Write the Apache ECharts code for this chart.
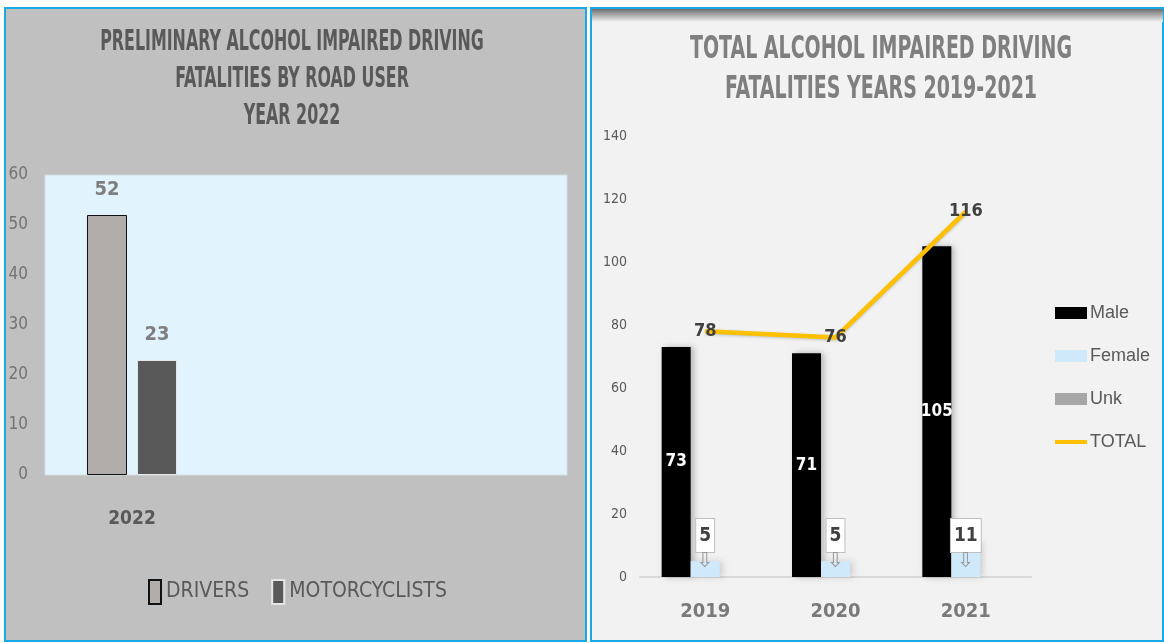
<!DOCTYPE html>
<html>
<head>
<meta charset="utf-8">
<script src="https://cdn.jsdelivr.net/npm/echarts@6/dist/echarts.min.js"></script>
<style>
  html, body { margin: 0; padding: 0; background: #fff; }
  #chart { width: 1164px; height: 643px; }
</style>
</head>
<body>
<div id="chart"></div>
<script>
// left chart: 2022 by road user
const leftCategories = ['2022', '', '']
const drivers = [52]
const motorcyclists = [23]
const leftTicks = [0, 10, 20, 30, 40, 50, 60]

// right chart: 2019-2021 by sex
const years = ['2019', '2020', '2021']
const male = [73, 71, 105]
const female = [5, 5, 11]
const unk = [0, 0, 0]
const total = [78, 76, 116]
const rightTicks = [0, 20, 40, 60, 80, 100, 120, 140]

const leftTitle = 'PRELIMINARY ALCOHOL IMPAIRED DRIVING\nFATALITIES BY ROAD USER\nYEAR 2022'
const rightTitle = 'TOTAL ALCOHOL IMPAIRED DRIVING\nFATALITIES YEARS 2019-2021'

const NARROW = '"DejaVu Sans Condensed", "DejaVu Sans", sans-serif'
const SANS = '"Liberation Sans", Arial, sans-serif'

let myChart = echarts.init(document.getElementById('chart'))

let option = {
  backgroundColor: '#ffffff',
  animation: false,
  graphic: [
    {
      type: 'rect', z: -10, silent: true,
      shape: { x: 5, y: 8, width: 581, height: 633 },
      style: { fill: '#c0c0c0', stroke: '#19a9e6', lineWidth: 2 }
    },
    {
      type: 'rect', z: -10, silent: true,
      shape: { x: 591, y: 8, width: 572, height: 633 },
      style: { fill: '#f2f2f2', stroke: '#19a9e6', lineWidth: 2 }
    },
    {
      // dark band at top of the right panel
      type: 'rect', z: -9, silent: true,
      shape: { x: 592, y: 9, width: 571, height: 13 },
      style: {
        fill: new echarts.graphic.LinearGradient(0, 0, 0, 1, [
          { offset: 0, color: '#6e6e6e' },
          { offset: 1, color: '#f2f2f2' }
        ])
      }
    },
    // titles are squeezed sideways like the original condensed font
    {
      type: 'text', x: 292, y: 80, scaleX: 0.63, silent: true,
      style: {
        text: leftTitle, textAlign: 'center', textVerticalAlign: 'middle',
        font: 'bold 28px ' + NARROW, lineHeight: 37, fill: '#595959'
      }
    },
    {
      type: 'text', x: 881, y: 70, scaleX: 0.66, silent: true,
      style: {
        text: rightTitle, textAlign: 'center', textVerticalAlign: 'middle',
        font: 'bold 32px ' + NARROW, lineHeight: 40, fill: '#7f7f7f'
      }
    }
  ],
  legend: [
    {
      data: ['DRIVERS', 'MOTORCYCLISTS'],
      left: 148, top: 579, padding: 0,
      icon: 'rect', itemWidth: 12, itemHeight: 24, itemGap: 22,
      textStyle: { fontFamily: NARROW, fontSize: 21, color: '#595959' }
    },
    {
      data: [
        { name: 'Male', icon: 'rect' },
        { name: 'Female', icon: 'rect' },
        { name: 'Unk', icon: 'rect' },
        { name: 'TOTAL', icon: 'path://M0,0 L32,0 L32,4 L0,4 Z' }
      ],
      orient: 'vertical', left: 1055, top: 304, padding: 0,
      itemWidth: 32, itemHeight: 12, itemGap: 25,
      textStyle: { fontFamily: SANS, fontSize: 18, color: '#595959', padding: [0, 0, 0, -2] }
    }
  ],
  grid: [
    {
      left: 45, right: 597, top: 175, bottom: 168,
      show: true, backgroundColor: '#e1f3fd', borderColor: '#d3dde3', borderWidth: 1
    },
    {
      left: 640, right: 133, top: 136, bottom: 66
    }
  ],
  xAxis: [
    {
      gridIndex: 0, type: 'category', data: leftCategories,
      axisLine: { show: false }, axisTick: { show: false },
      axisLabel: { margin: 35, fontFamily: NARROW, fontSize: 19, fontWeight: 'bold', color: '#595959' }
    },
    {
      gridIndex: 1, type: 'category', data: years,
      axisLine: { lineStyle: { color: '#d9d9d9', width: 2 } }, axisTick: { show: false },
      axisLabel: { margin: 25, fontFamily: NARROW, fontSize: 20, fontWeight: 'bold', color: '#7a7a7a' }
    }
  ],
  yAxis: [
    {
      gridIndex: 0, type: 'value',
      min: leftTicks[0], max: leftTicks[leftTicks.length - 1], interval: 10,
      splitLine: { show: false }, axisLine: { show: false }, axisTick: { show: false },
      axisLabel: { margin: 17, fontFamily: NARROW, fontSize: 17, color: '#737373' }
    },
    {
      gridIndex: 1, type: 'value',
      min: rightTicks[0], max: rightTicks[rightTicks.length - 1], interval: 20,
      splitLine: { show: false }, axisLine: { show: false }, axisTick: { show: false },
      axisLabel: { margin: 13, fontFamily: NARROW, fontSize: 14, color: '#595959' }
    }
  ],
  series: [
    {
      name: 'DRIVERS', type: 'bar', xAxisIndex: 0, yAxisIndex: 0,
      data: drivers, barWidth: 40, barGap: '25%',
      itemStyle: { color: '#b0adab', borderColor: '#111111', borderWidth: 1 },
      label: {
        show: true, position: 'top', distance: 15,
        fontFamily: NARROW, fontSize: 20, fontWeight: 'bold', color: '#7f7f7f'
      }
    },
    {
      name: 'MOTORCYCLISTS', type: 'bar', xAxisIndex: 0, yAxisIndex: 0,
      data: motorcyclists, barWidth: 40, barGap: '25%',
      itemStyle: { color: '#595959', borderColor: '#e6e6e6', borderWidth: 1 },
      label: {
        show: true, position: 'top', distance: 15,
        fontFamily: NARROW, fontSize: 20, fontWeight: 'bold', color: '#7f7f7f'
      }
    },
    {
      name: 'Male', type: 'bar', xAxisIndex: 1, yAxisIndex: 1,
      data: male, barWidth: 29, barGap: 0,
      itemStyle: { color: '#000000', shadowColor: 'rgba(0,0,0,0.25)', shadowBlur: 6, shadowOffsetX: 3 },
      label: {
        show: true, position: 'inside',
        fontFamily: NARROW, fontSize: 17, fontWeight: 'bold', color: '#ffffff'
      }
    },
    {
      name: 'Female', type: 'bar', xAxisIndex: 1, yAxisIndex: 1,
      data: female, barWidth: 29, barGap: 0,
      itemStyle: { color: '#cfe9fa', shadowColor: 'rgba(0,0,0,0.15)', shadowBlur: 6, shadowOffsetX: 3 },
      label: {
        show: true, position: 'insideBottom', distance: 6,
        formatter: '{a|{c}}\n{b|⇩}',
        rich: {
          a: {
            fontFamily: NARROW, fontSize: 19, fontWeight: 'bold', color: '#404040',
            backgroundColor: '#ffffff', borderColor: '#bfbfbf', borderWidth: 1,
            padding: [8, 3, 6, 3], align: 'center'
          },
          b: { fontFamily: '"DejaVu Sans", sans-serif', fontSize: 21, color: '#9a9a9a', align: 'center', lineHeight: 19 }
        }
      }
    },
    {
      name: 'Unk', type: 'bar', xAxisIndex: 1, yAxisIndex: 1,
      data: unk, barWidth: 29, barGap: 0,
      itemStyle: { color: '#a6a6a6' }
    },
    {
      name: 'TOTAL', type: 'line', xAxisIndex: 1, yAxisIndex: 1,
      data: total, symbol: 'circle', symbolSize: 1, showSymbol: true, z: 5,
      lineStyle: { color: '#ffc000', width: 4.5, shadowColor: 'rgba(0,0,0,0.2)', shadowBlur: 3, shadowOffsetY: 1 },
      itemStyle: { color: '#ffc000' },
      label: {
        show: true, position: 'inside',
        fontFamily: NARROW, fontSize: 18, fontWeight: 'bold', color: '#404040'
      }
    }
  ]
}

myChart.setOption(option)
window.addEventListener('resize', function () {
  myChart.resize()
})
</script>
</body>
</html>
